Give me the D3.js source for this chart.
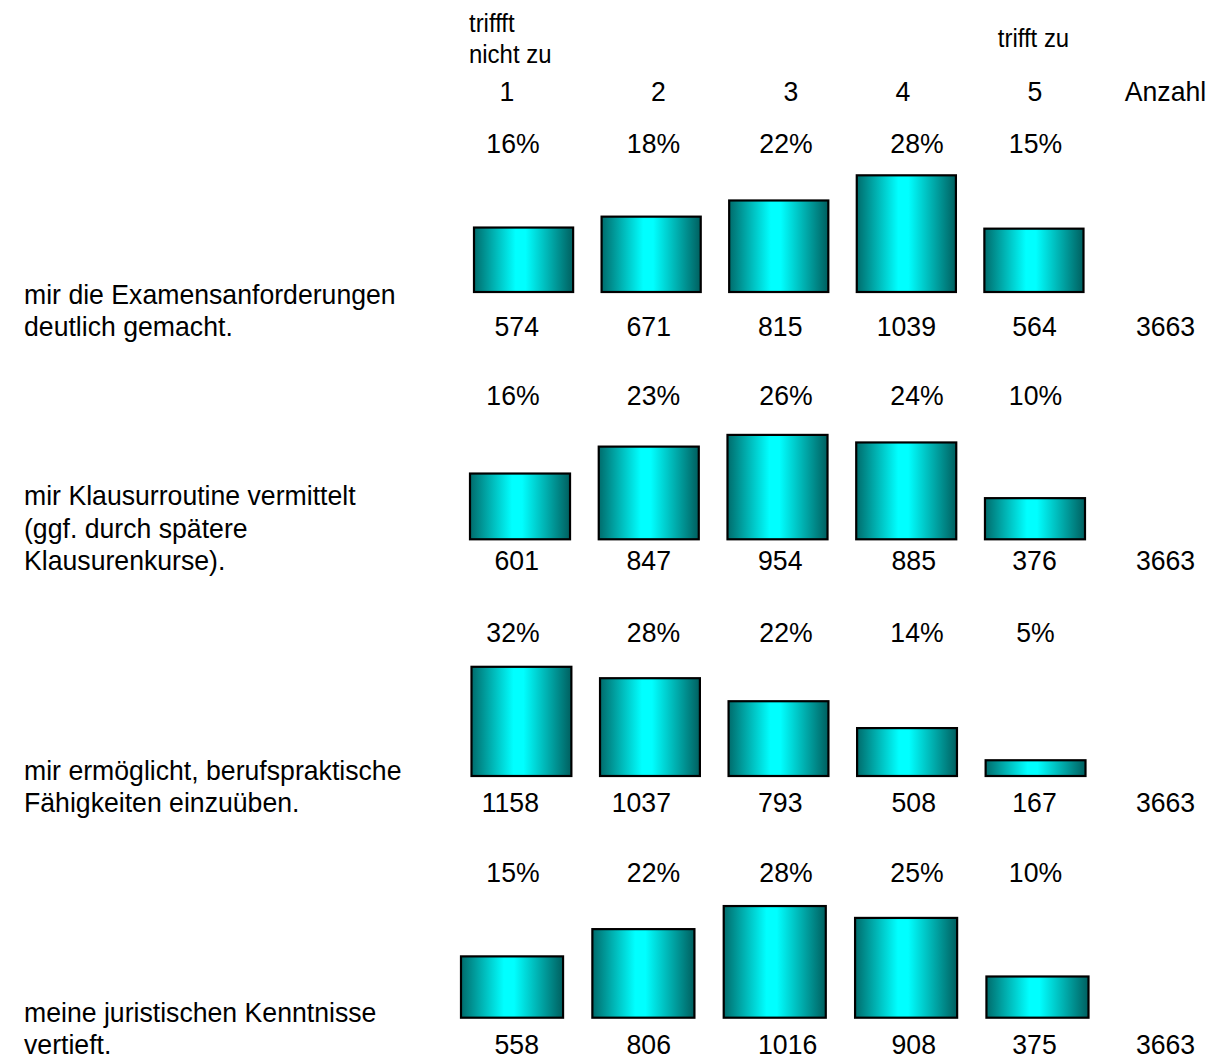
<!DOCTYPE html>
<html>
<head>
<meta charset="utf-8">
<script src="https://cdn.jsdelivr.net/npm/d3@7"></script>
<style>
  html, body { margin: 0; padding: 0; background: #fff; }
  svg { display: block; }
  text { font-family: "Liberation Sans", Arial, sans-serif; fill: #000; }
</style>
</head>
<body>
<svg id="chart" width="1221" height="1060"></svg>
<script>
// ---------- data ----------
const categories = ["1", "2", "3", "4", "5"];
const totalLabel = "Anzahl";
const lowLabel = ["triffft", "nicht zu"];
const highLabel = "trifft zu";

const rowLabels = [
  ["mir die Examensanforderungen", "deutlich gemacht."],
  ["mir Klausurroutine vermittelt", "(ggf. durch spätere", "Klausurenkurse)."],
  ["mir ermöglicht, berufspraktische", "Fähigkeiten einzuüben."],
  ["meine juristischen Kenntnisse", "vertieft."]
];
const counts1 = [574, 671, 815, 1039, 564];
const counts2 = [601, 847, 954, 885, 376];
const counts3 = [1158, 1037, 793, 508, 167];
const counts4 = [558, 806, 1016, 908, 375];
const percents1 = [16, 18, 22, 28, 15];
const percents2 = [16, 23, 26, 24, 10];
const percents3 = [32, 28, 22, 14, 5];
const percents4 = [15, 22, 28, 25, 10];
const totals = [3663, 3663, 3663, 3663];

const counts = [counts1, counts2, counts3, counts4];
const percents = [percents1, percents2, percents3, percents4];

// ---------- layout ----------
const FS = 28.5;       // main font size (slightly condensed horizontally)
const FS_SMALL = 25.6; // header captions
const SX = 0.935;      // horizontal text compression
const labelX = 24;
const lineGap = 32.5;
const rowLayout = [
  { xl: 474, xr: 1083.5, bottom: 292,   yMax: 1157.6, pctY: 153,   cntY: 336 },
  { xl: 470, xr: 1085,   bottom: 539.3, yMax: 1188,   pctY: 404.5, cntY: 570 },
  { xl: 471.5, xr: 1085.5, bottom: 776, yMax: 1378.6, pctY: 641.5, cntY: 812 },
  { xl: 461, xr: 1088.5, bottom: 1017.7, yMax: 1183,  pctY: 881.5, cntY: 1054 }
];
const plotH = 130;
const pctCols = [513, 653.5, 786, 917, 1035.5];
const cntCols = [
  { x: 539, a: "end" }, { x: 671, a: "end" }, { x: 758, a: "start" },
  { x: 936, a: "end" }, { x: 1034.5, a: "middle" }
];
const totalX = 1165.5;
const headCols = [507, 658.5, 791, 903, 1035];

const svg = d3.select("#chart");

function txt(parent, x, y, s, anchor, size) {
  return parent.append("text")
    .attr("transform", `translate(${x},${y}) scale(${SX},1)`)
    .attr("font-size", size || FS)
    .attr("text-anchor", anchor || "start")
    .text(s);
}

// gradient
const defs = svg.append("defs");
const grad = defs.append("linearGradient").attr("id", "barGrad")
  .attr("x1", "0%").attr("x2", "100%").attr("y1", "0%").attr("y2", "0%");
[[0, "#006c6c"], [0.42, "#00ffff"], [0.52, "#00ffff"], [1, "#005f5f"]]
  .forEach(([o, c]) => grad.append("stop").attr("offset", o).attr("stop-color", c));

// header
txt(svg, 469, 32, lowLabel[0], "start", FS_SMALL);
txt(svg, 469, 63, lowLabel[1], "start", FS_SMALL);
txt(svg, 1033.5, 47, highLabel, "middle", FS_SMALL);
categories.forEach((c, i) => txt(svg, headCols[i], 101, c, "middle"));
txt(svg, totalX, 101, totalLabel, "middle");

// rows
rowLayout.forEach((L, r) => {
  const g = svg.append("g");
  const x = d3.scaleBand().domain(categories).range([L.xl, L.xr])
    .paddingInner(0.223).paddingOuter(0);
  const y = d3.scaleLinear().domain([0, L.yMax]).range([L.bottom, L.bottom - plotH]);
  const vals = counts[r];

  g.selectAll("rect").data(vals).join("rect")
    .attr("x", (d, i) => x(categories[i]))
    .attr("y", d => y(d))
    .attr("width", x.bandwidth())
    .attr("height", d => y(0) - y(d))
    .attr("fill", "url(#barGrad)")
    .attr("stroke", "#000").attr("stroke-width", 2.2);

  percents[r].forEach((p, i) => txt(g, pctCols[i], L.pctY, p + "%", "middle"));
  vals.forEach((v, i) => txt(g, cntCols[i].x, L.cntY, String(v), cntCols[i].a));
  txt(g, totalX, L.cntY, String(totals[r]), "middle");

  const lines = rowLabels[r];
  lines.forEach((t, k) => txt(g, labelX, L.cntY - (lines.length - 1 - k) * lineGap, t, "start"));
});
</script>
</body>
</html>
